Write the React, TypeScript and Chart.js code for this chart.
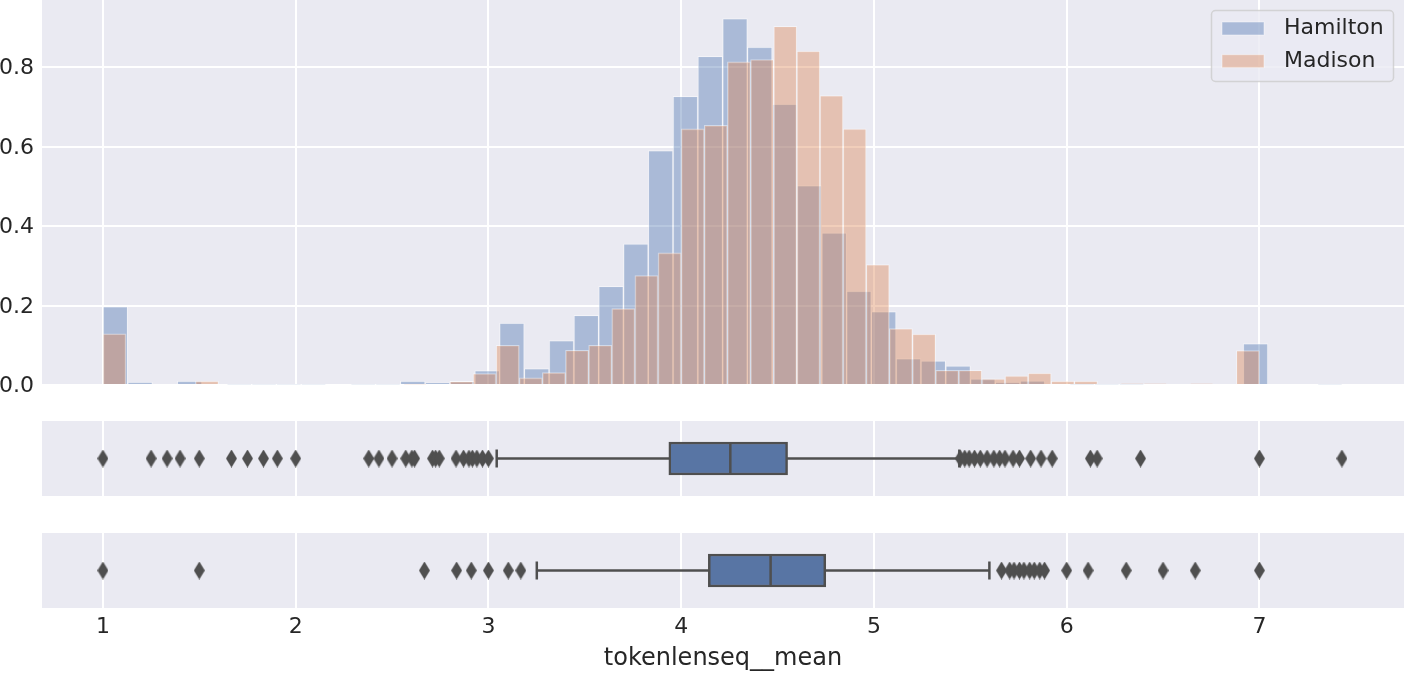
import React, { useEffect, useRef } from "react";
import { Chart, registerables } from "chart.js";

Chart.register(...registerables);

// ---------------- data ----------------
const seriesLabels = ["Hamilton", "Madison"];
const xTicks = [1, 2, 3, 4, 5, 6, 7];
const yTicks = [0, 0.2, 0.4, 0.6, 0.8];
const xLabel = "tokenlenseq__mean";

const hamiltonBinStart = 1.0;
const hamiltonBinWidth = 0.1286;
const hamiltonDensity = [
  0.197, 0.007, 0, 0.0096, 0, 0.002, 0.002, 0.002, 0.002, 0,
  0.002, 0.002, 0.0096, 0.0055, 0.009, 0.0365, 0.156, 0.0415, 0.112, 0.175,
  0.2485, 0.355, 0.59, 0.7265, 0.827, 0.922, 0.85, 0.707, 0.502, 0.383,
  0.236, 0.185, 0.0667, 0.061, 0.048, 0.0155, 0.007, 0.0105, 0, 0.002,
  0.002, 0.002, 0, 0, 0, 0, 0.104, 0, 0, 0.002,
];

const madisonBinStart = 1.0;
const madisonBinWidth = 0.12;
const madisonDensity = [
  0.129, 0, 0, 0, 0.0096, 0, 0, 0, 0, 0,
  0, 0, 0, 0.002, 0, 0.009, 0.029, 0.1, 0.018, 0.031,
  0.0875, 0.1, 0.192, 0.2755, 0.3326, 0.6445, 0.653, 0.813, 0.819, 0.9026,
  0.84, 0.728, 0.6445, 0.303, 0.142, 0.128, 0.037, 0.037, 0.0155, 0.023,
  0.0297, 0.0096, 0.0096, 0, 0.003, 0.003, 0, 0.003, 0, 0.0868,
];

// [lower whisker, Q1, median, Q3, upper whisker]
const hamiltonBoxStats = [3.043, 3.936, 4.255, 4.552, 5.443];
const hamiltonOutliers = [
  1.0, 1.25, 1.333, 1.4, 1.5, 1.667, 1.75, 1.833, 1.905, 2.0,
  2.379, 2.432, 2.5, 2.571, 2.603, 2.617, 2.71, 2.726, 2.745, 2.832,
  2.871, 2.899, 2.917, 2.94, 2.969, 3.0,
  5.448, 5.471, 5.494, 5.522, 5.552, 5.587, 5.622, 5.652, 5.68, 5.722,
  5.755, 5.813, 5.867, 5.925, 6.123, 6.158, 6.383, 7.0, 7.428,
];

const madisonBoxStats = [3.251, 4.141, 4.464, 4.75, 5.599];
const madisonOutliers = [
  1.0, 1.5, 2.668, 2.835, 2.911, 3.0, 3.103, 3.168,
  5.662, 5.704, 5.727, 5.755, 5.778, 5.808, 5.832, 5.86, 5.885,
  6.0, 6.111, 6.309, 6.5, 6.667, 7.0,
];

// ---------------- style / layout ----------------
const W = 1404;
const LEFT = 42;
const X_MIN = 0.684;
const X_MAX = 7.75;
const Y_MAX = 0.9686;
const BG = "#EAEAF2";
const GRID = "#FFFFFF";
const TEXT = "#262626";
const FONT = "'DejaVu Sans', sans-serif";
const SERIES_FILL = ["rgba(76,114,176,0.4)", "rgba(221,132,82,0.4)"];
const BAR_EDGE = "rgba(255,255,255,0.45)";
const BOX_FILL = "#5875a4";
const BOX_LINE = "#4f4f4f";
const BOX_HALF = 0.2;
const CAP_HALF = 0.12;

const panelBg = {
  id: "panelBg",
  beforeDraw(chart: any) {
    const { ctx, chartArea: a } = chart;
    ctx.save();
    ctx.fillStyle = BG;
    ctx.fillRect(a.left, a.top, a.right - a.left, a.bottom - a.top);
    ctx.restore();
  },
};

const legendBox = {
  id: "legendBox",
  afterDraw(chart: any) {
    const { ctx, chartArea: a } = chart;
    const x0 = a.right - 192.5;
    const y0 = a.top + 10.5;
    ctx.save();
    ctx.beginPath();
    ctx.roundRect(x0, y0, 182, 71, 4);
    ctx.fillStyle = "rgba(234,234,242,0.8)";
    ctx.fill();
    ctx.strokeStyle = "rgba(204,204,204,0.8)";
    ctx.lineWidth = 1.5;
    ctx.stroke();
    chart.data.datasets.forEach((ds: any, i: number) => {
      const cy = y0 + 18 + i * 32.7;
      ctx.fillStyle = ds.backgroundColor;
      ctx.fillRect(x0 + 10.5, cy - 6.5, 42, 13);
      ctx.strokeStyle = ds.borderColor;
      ctx.lineWidth = 1;
      ctx.strokeRect(x0 + 10.5, cy - 6.5, 42, 13);
      ctx.fillStyle = TEXT;
      ctx.font = `22px ${FONT}`;
      ctx.textBaseline = "middle";
      ctx.textAlign = "left";
      ctx.fillText(ds.label, x0 + 72.5, cy);
    });
    ctx.restore();
  },
};

const setXTicks = (s: any) => {
  s.ticks = xTicks.map((v) => ({ value: v }));
};

function histConfig(): any {
  const mk = (start: number, width: number, vals: number[]) =>
    vals.map((v, i) => ({ x: start + (i + 0.5) * width, y: v }));
  const barStyle = {
    borderColor: BAR_EDGE,
    borderWidth: 1,
    barPercentage: 1,
    categoryPercentage: 1,
    grouped: false,
  };
  return {
    type: "bar",
    data: {
      datasets: [
        {
          label: seriesLabels[0],
          xAxisID: "x",
          yAxisID: "y",
          data: mk(hamiltonBinStart, hamiltonBinWidth, hamiltonDensity),
          backgroundColor: SERIES_FILL[0],
          ...barStyle,
          order: 2,
        },
        {
          label: seriesLabels[1],
          xAxisID: "x2",
          yAxisID: "y",
          data: mk(madisonBinStart, madisonBinWidth, madisonDensity),
          backgroundColor: SERIES_FILL[1],
          ...barStyle,
          order: 1,
        },
      ],
    },
    options: {
      responsive: false,
      maintainAspectRatio: false,
      animation: false,
      layout: { padding: { left: 0, right: 0, top: 0, bottom: 15 }, autoPadding: false },
      plugins: { legend: { display: false }, tooltip: { enabled: false } },
      scales: {
        x: {
          type: "linear",
          axis: "x",
          position: "bottom",
          min: X_MIN,
          max: X_MAX,
          offset: false,
          grid: { color: GRID, lineWidth: 2, drawTicks: false, offset: false },
          border: { display: false },
          ticks: { display: false },
          afterBuildTicks: setXTicks,
        },
        x2: {
          type: "linear",
          axis: "x",
          position: "bottom",
          min: X_MIN,
          max: X_MAX,
          offset: false,
          display: false,
          afterBuildTicks: setXTicks,
        },
        y: {
          type: "linear",
          min: 0,
          max: Y_MAX,
          offset: false,
          grid: { color: GRID, lineWidth: 2, drawTicks: false },
          border: { display: false },
          ticks: {
            color: TEXT,
            font: { family: FONT, size: 22 },
            padding: 8,
            labelOffset: 1.5,
            callback: (v: any) => Number(v).toFixed(1),
          },
          afterBuildTicks: (s: any) => {
            s.ticks = yTicks.map((v) => ({ value: v }));
          },
          afterFit: (s: any) => {
            s.width = LEFT;
            s.paddingTop = 0;
            s.paddingBottom = 0;
          },
        },
      },
    },
    plugins: [panelBg, legendBox],
  };
}

function makeDiamond(): HTMLCanvasElement {
  const w = 11;
  const h = 18;
  const c = document.createElement("canvas");
  c.width = w;
  c.height = h;
  const g = c.getContext("2d")!;
  g.fillStyle = BOX_LINE;
  g.beginPath();
  g.moveTo(w / 2, 0);
  g.lineTo(w, h / 2);
  g.lineTo(w / 2, h);
  g.lineTo(0, h / 2);
  g.closePath();
  g.fill();
  return c;
}

function boxConfig(stats: number[], outliers: number[], showAxis: boolean): any {
  const [wLo, q1, med, q3, wHi] = stats;
  const lineDs = (pts: { x: number; y: number }[], order: number) => ({
    type: "line",
    data: pts,
    borderColor: BOX_LINE,
    borderWidth: 2.5,
    pointRadius: 0,
    fill: false,
    order,
  });
  return {
    type: "bar",
    data: {
      datasets: [
        lineDs([{ x: wLo, y: 0 }, { x: wHi, y: 0 }], 5),
        {
          type: "bar",
          indexAxis: "y",
          data: [{ x: [q1, q3], y: 0 }],
          backgroundColor: BOX_FILL,
          borderColor: BOX_LINE,
          borderWidth: 2.5,
          borderSkipped: false,
          barThickness: 33,
          order: 4,
        },
        lineDs([{ x: med, y: -BOX_HALF }, { x: med, y: BOX_HALF }], 3),
        lineDs([{ x: wLo, y: -CAP_HALF }, { x: wLo, y: CAP_HALF }], 3),
        lineDs([{ x: wHi, y: -CAP_HALF }, { x: wHi, y: CAP_HALF }], 3),
        {
          type: "scatter",
          data: outliers.map((v) => ({ x: v, y: 0 })),
          pointStyle: makeDiamond(),
          pointRadius: 5,
          showLine: false,
          order: 1,
        },
      ],
    },
    options: {
      responsive: false,
      maintainAspectRatio: false,
      animation: false,
      layout: { padding: { left: LEFT, right: 0, top: 0, bottom: 0 }, autoPadding: false },
      plugins: { legend: { display: false }, tooltip: { enabled: false } },
      scales: {
        x: {
          type: "linear",
          position: "bottom",
          min: X_MIN,
          max: X_MAX,
          offset: false,
          grid: { color: GRID, lineWidth: 2, drawTicks: false, offset: false },
          border: { display: false },
          ticks: {
            display: showAxis,
            color: TEXT,
            font: { family: FONT, size: 22 },
            padding: 6,
            maxRotation: 0,
            autoSkip: false,
            callback: (v: any) => String(v),
          },
          title: {
            display: showAxis,
            text: xLabel,
            color: TEXT,
            font: { family: FONT, size: 24 },
            padding: { top: 0, bottom: 1 },
          },
          afterBuildTicks: setXTicks,
          afterFit: (s: any) => {
            s.height = showAxis ? 66 : 0;
            s.paddingLeft = 0;
            s.paddingRight = 0;
          },
        },
        y: {
          type: "linear",
          min: -0.5,
          max: 0.5,
          offset: false,
          display: false,
        },
      },
    },
    plugins: [panelBg],
  };
}

function ChartCanvas({ makeConfig, top, height }: { makeConfig: () => any; top: number; height: number }) {
  const ref = useRef<HTMLCanvasElement | null>(null);
  useEffect(() => {
    if (!ref.current) return;
    const chart = new Chart(ref.current, makeConfig());
    return () => chart.destroy();
  }, []);
  return (
    <canvas
      ref={ref}
      width={W}
      height={height}
      style={{ position: "absolute", left: 0, top, width: W, height, display: "block" }}
    />
  );
}

export default function App() {
  return (
    <div style={{ position: "fixed", left: 0, top: 0, width: W, height: 674, background: "#ffffff", overflow: "hidden" }}>
      <ChartCanvas makeConfig={histConfig} top={0} height={400} />
      <ChartCanvas makeConfig={() => boxConfig(hamiltonBoxStats, hamiltonOutliers, false)} top={421} height={75} />
      <ChartCanvas makeConfig={() => boxConfig(madisonBoxStats, madisonOutliers, true)} top={533} height={141} />
    </div>
  );
}
